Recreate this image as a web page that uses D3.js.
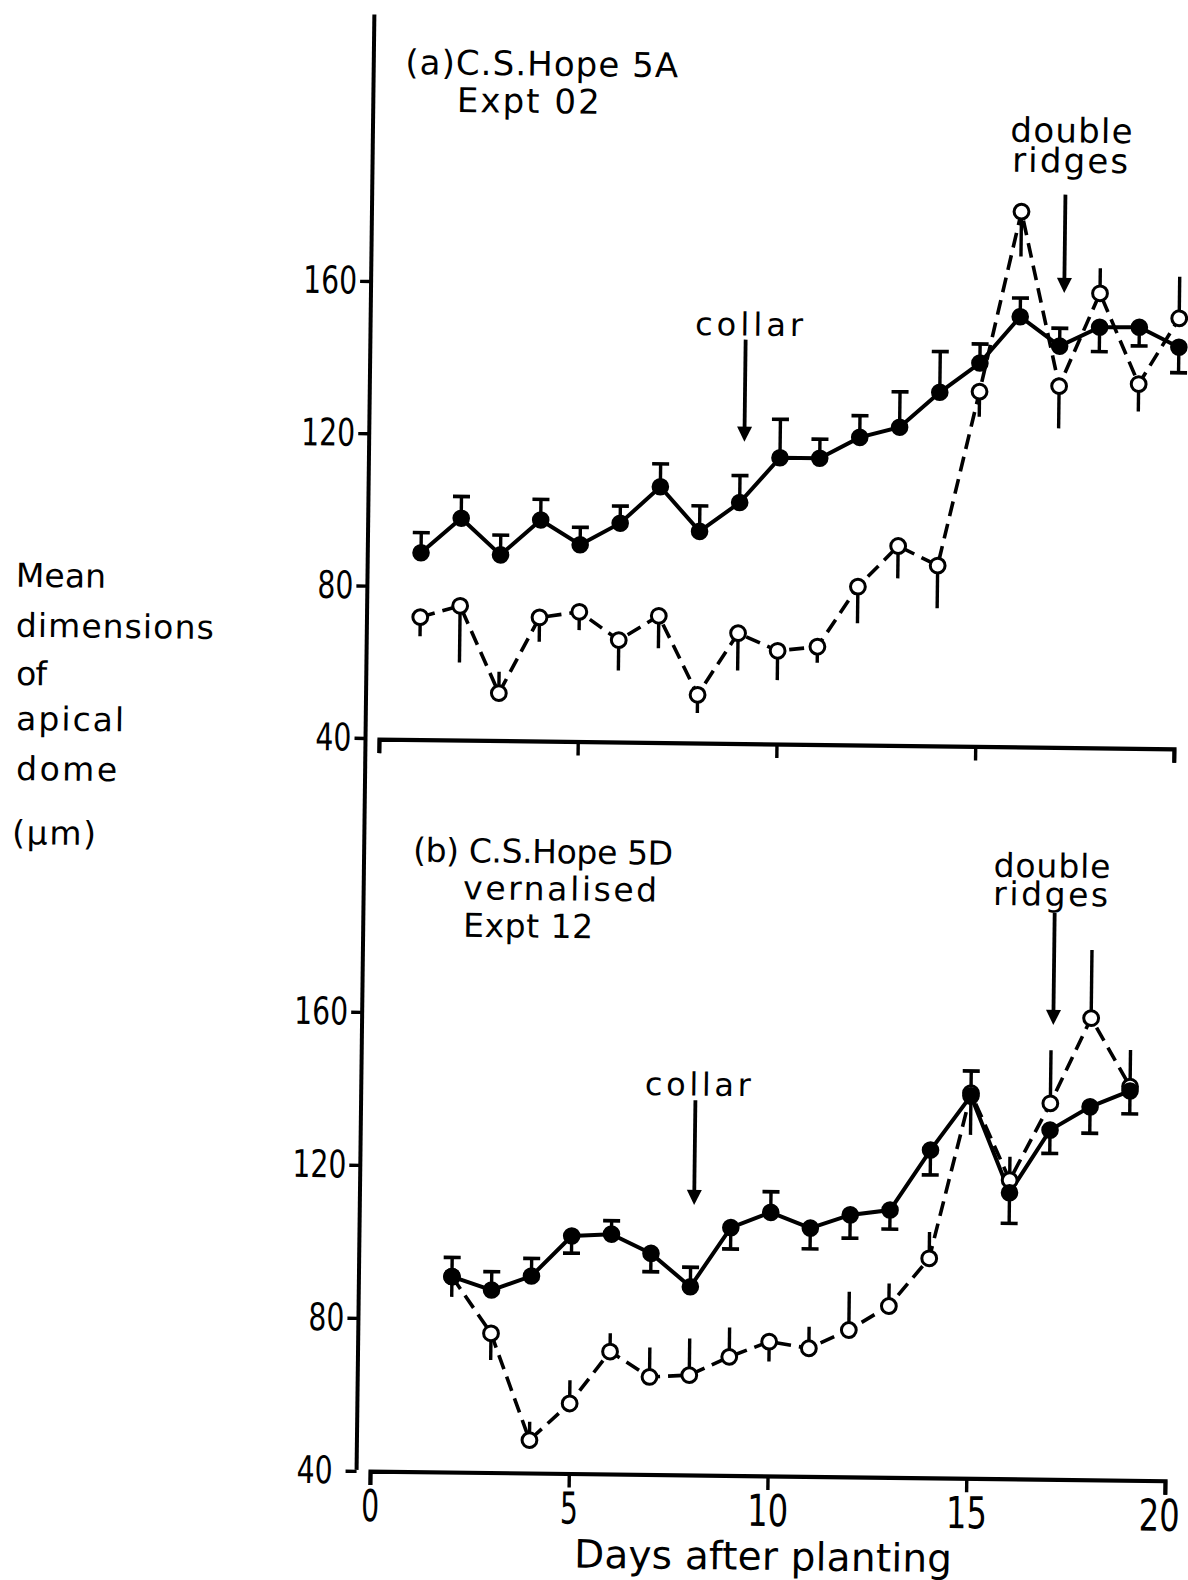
<!DOCTYPE html>
<html>
<head>
<meta charset="utf-8">
<script src="https://cdn.jsdelivr.net/npm/d3@7"></script>
<style>
  html, body { margin: 0; padding: 0; background: #fff; }
  svg { display: block; }
</style>
</head>
<body>
<svg id="chart" width="1188" height="1580"></svg>
<script>
// ---- (a) C.S. Hope 5A, Expt 02 ----
const daysA = [1, 2, 3, 4, 5, 6, 7, 8, 9, 10, 11, 12, 13, 14, 15, 16, 17, 18, 19, 20];
const aFilledMean = [88.8, 98.0, 88.5, 97.8, 91.4, 97.2, 106.9, 95.3, 103.0, 114.9,
                     114.9, 120.5, 123.3, 132.6, 140.4, 152.7, 145.1, 150.2, 150.3, 145.2];
// one-sided standard errors: positive drawn upward, negative drawn downward
const aFilledErr  = [5.3, 5.7, 5.2, 5.4, 4.6, 4.5, 6.0, 6.7, 7.1, 10.1,
                     5.0, 5.7, 9.3, 10.7, 5.0, 4.9, 4.7, -6.4, -4.9, -6.7];
const aOpenMean   = [71.9, 75.0, 52.2, 72.2, 73.8, 66.5, 73.0, 52.4, 68.7, 64.2,
                     65.4, 81.3, 92.1, 87.1, 132.9, 180.3, 134.6, 159.1, 135.4, 152.8];
const aOpenErr    = [-5.0, -14.9, 5.6, -6.4, -4.8, -8.0, -8.5, -4.8, -9.8, -7.7,
                     -4.2, -9.6, -8.5, -11.2, -6.6, -11.8, -11.1, 6.6, -7.2, 10.9];

// ---- (b) C.S. Hope 5D vernalised, Expt 12 ----
const daysB = [2, 3, 4, 5, 6, 7, 8, 9, 10, 11, 12, 13, 14, 15, 16, 17, 18, 19];
const bFilledMean = [91.1, 87.7, 91.5, 102.1, 102.7, 97.8, 89.2, 104.8, 108.9, 104.9,
                     108.5, 109.9, 125.7, 140.0, 114.8, 131.3, 137.5, 141.8];
const bFilledErr  = [5.0, 4.8, 4.6, -4.5, 3.5, -4.8, 5.1, -5.6, 5.4, -5.4,
                     -6.1, -5.0, -6.5, 6.5, -8.0, -6.1, -6.9, -6.0];
const bOpenMean   = [91.1, 76.4, 48.6, 58.3, 72.0, 65.5, 66.1, 71.0, 75.1, 73.5,
                     78.4, 84.8, 97.4, 140.7, 118.1, 138.3, 160.7, 142.9];
const bOpenErr    = [-5.3, -7.0, 4.8, 6.1, 4.8, 7.7, 9.6, 7.7, -5.2, 5.6,
                     10.0, 5.9, 6.9, -10.9, 6.1, 13.9, 17.8, 9.6];

// Developmental markers: day and the value span of each arrow
const markersA = [
  { day: 9.1,  from: 145.8, to: 119.0 },   // collar
  { day: 17.1, from: 184.9, to: 159.1 }    // double ridges
];
const markersB = [
  { day: 8.07, from: 138.0, to: 110.6 },   // collar
  { day: 17.05, from: 188.1, to: 158.8 }   // double ridges
];

const xTicks = [0, 5, 10, 15, 20];
const yTicks = [40, 80, 120, 160];

// ---------------------------------------------------------------
const FONT = "'DejaVu Sans', 'Noto Sans', sans-serif";
const svg = d3.select("#chart");
svg.append("rect").attr("width", 1188).attr("height", 1580).attr("fill", "#fff");

// The sheet sits slightly turned on the page
const g = svg.append("g").attr("transform", "rotate(0.7,370,740)");

const x  = d3.scaleLinear().domain([0, 20]).range([379, 1174]);
const yA = d3.scaleLinear().domain([40, 160]).range([738, 281]);
const yB = d3.scaleLinear().domain([40, 160]).range([1471, 1012]);
const spineX = 365.5;

// Continuous vertical spine shared by both panels
g.append("line")
  .attr("x1", spineX).attr("x2", spineX)
  .attr("y1", yA(230)).attr("y2", yB(40) - 1)
  .attr("stroke", "#000").attr("stroke-width", 4);

function yAxis(scale) {
  const ax = g.append("g")
    .attr("transform", `translate(${spineX},0)`)
    .call(d3.axisLeft(scale).tickValues(yTicks).tickSize(11).tickPadding(3));
  ax.select(".domain").remove();
  ax.selectAll(".tick line").attr("stroke", "#000").attr("stroke-width", 3.4);
  ax.selectAll(".tick text")
    .attr("font-family", FONT).attr("font-size", 38).attr("fill", "#000")
    .attr("lengthAdjust", "spacingAndGlyphs")
    .attr("textLength", d => String(d).length === 3 ? 54 : 36);
  return ax;
}
yAxis(yA);
const axB = yAxis(yB);
axB.selectAll(".tick text").filter(d => d === 40).attr("x", -24);

function xAxis(yPos, withLabels) {
  const ax = g.append("g")
    .attr("transform", `translate(0,${yPos})`)
    .call(d3.axisBottom(x).tickValues(xTicks).tickSize(14).tickSizeOuter(14)
      .tickFormat(withLabels ? d3.format("d") : () => ""));
  ax.select(".domain").attr("stroke", "#000").attr("stroke-width", 4.2).attr("fill", "none");
  ax.selectAll(".tick line").attr("stroke", "#000").attr("stroke-width", 3.4);
  ax.selectAll(".tick text")
    .attr("font-family", FONT).attr("font-size", 44).attr("fill", "#000")
    .attr("y", 50).attr("dy", 0)
    .attr("dx", d => d === 20 ? -6 : 0)
    .attr("lengthAdjust", "spacingAndGlyphs")
    .attr("textLength", d => String(d).length === 2 ? 41 : 18);
}
xAxis(yA(40) + 1, false);
xAxis(yB(40), true);

function drawPanel(days, fMean, fErr, oMean, oErr, y, markers) {
  const line = d3.line().x((d, i) => x(days[i])).y(d => y(d));

  g.append("path").datum(oMean).attr("d", line)
    .attr("fill", "none").attr("stroke", "#000").attr("stroke-width", 3.6)
    .attr("stroke-dasharray", "15,8");
  g.append("path").datum(fMean).attr("d", line)
    .attr("fill", "none").attr("stroke", "#000").attr("stroke-width", 4);

  // whiskers of open symbols (no caps)
  g.append("g").selectAll("line").data(oMean).join("line")
    .attr("x1", (d, i) => x(days[i])).attr("x2", (d, i) => x(days[i]))
    .attr("y1", d => y(d)).attr("y2", (d, i) => y(d + oErr[i]))
    .attr("stroke", "#000").attr("stroke-width", 3.4);

  // error bars of filled symbols, capped
  const fb = g.append("g");
  fb.selectAll("line.bar").data(fMean).join("line").attr("class", "bar")
    .attr("x1", (d, i) => x(days[i])).attr("x2", (d, i) => x(days[i]))
    .attr("y1", d => y(d)).attr("y2", (d, i) => y(d + fErr[i]))
    .attr("stroke", "#000").attr("stroke-width", 3.4);
  fb.selectAll("line.cap").data(fMean).join("line").attr("class", "cap")
    .attr("x1", (d, i) => x(days[i]) - 8.5).attr("x2", (d, i) => x(days[i]) + 8.5)
    .attr("y1", (d, i) => y(d + fErr[i])).attr("y2", (d, i) => y(d + fErr[i]))
    .attr("stroke", "#000").attr("stroke-width", 3.6);

  g.append("g").selectAll("circle").data(oMean).join("circle")
    .attr("cx", (d, i) => x(days[i])).attr("cy", d => y(d)).attr("r", 7.4)
    .attr("fill", "#fff").attr("stroke", "#000").attr("stroke-width", 3);
  g.append("g").selectAll("circle").data(fMean).join("circle")
    .attr("cx", (d, i) => x(days[i])).attr("cy", d => y(d)).attr("r", 8.8)
    .attr("fill", "#000");

  // marker arrows
  markers.forEach(m => {
    const ax = x(m.day), y0 = y(m.from), y1 = y(m.to);
    g.append("line").attr("x1", ax).attr("x2", ax).attr("y1", y0).attr("y2", y1 - 10)
      .attr("stroke", "#000").attr("stroke-width", 3.8);
    g.append("path")
      .attr("d", `M${ax - 7.5},${y1 - 15}L${ax + 7.5},${y1 - 15}L${ax},${y1}Z`)
      .attr("fill", "#000");
  });
}

drawPanel(daysA, aFilledMean, aFilledErr, aOpenMean, aOpenErr, yA, markersA);
drawPanel(daysB, bFilledMean, bFilledErr, bOpenMean, bOpenErr, yB, markersB);

// ---- Text ----
const labels = [
  { t: "(a)C.S.Hope 5A",  x: 397,   y: 73.6,  s: 34, w: 273 },
  { t: "Expt 02",         x: 449,   y: 111,   s: 34, w: 143 },
  { t: "double",          x: 1003,  y: 134,   s: 34, w: 122 },
  { t: "ridges",          x: 1005,  y: 164,   s: 34, w: 116 },
  { t: "collar",          x: 690,   y: 331,   s: 32, w: 108 },
  { t: "(b) C.S.Hope 5D", x: 414.5, y: 861,   s: 33, w: 260 },
  { t: "vernalised",      x: 465,   y: 898,   s: 33, w: 194 },
  { t: "Expt 12",         x: 465.4, y: 935.6, s: 33, w: 130 },
  { t: "collar",          x: 649,   y: 1091.6, s: 32, w: 106 },
  { t: "double",          x: 995,   y: 869,   s: 33, w: 117 },
  { t: "ridges",          x: 995,   y: 897.4, s: 33, w: 115 },
  { t: "Mean",            x: 14,    y: 591,   s: 33, w: 90 },
  { t: "dimensions",      x: 14.4,  y: 641,   s: 33, w: 198 },
  { t: "of",              x: 15.3,  y: 689.3, s: 33, w: 31 },
  { t: "apical",          x: 15.9,  y: 734.3, s: 33, w: 108 },
  { t: "dome",            x: 16.5,  y: 784.3, s: 33, w: 101 },
  { t: "(\u03bcm)",       x: 13.3,  y: 848.4, s: 33, w: 84 }
];
g.append("g").selectAll("text").data(labels).join("text")
  .attr("x", d => d.x).attr("y", d => d.y)
  .attr("font-family", FONT).attr("font-size", d => d.s).attr("fill", "#000")
  .attr("textLength", d => d.w).attr("lengthAdjust", "spacing")
  .text(d => d.t);

g.append("text")
  .attr("x", 773).attr("y", 1565).attr("text-anchor", "middle")
  .attr("font-family", FONT).attr("font-size", 39).attr("fill", "#000")
  .attr("textLength", 378).attr("lengthAdjust", "spacing")
  .text("Days after planting");
</script>
</body>
</html>
